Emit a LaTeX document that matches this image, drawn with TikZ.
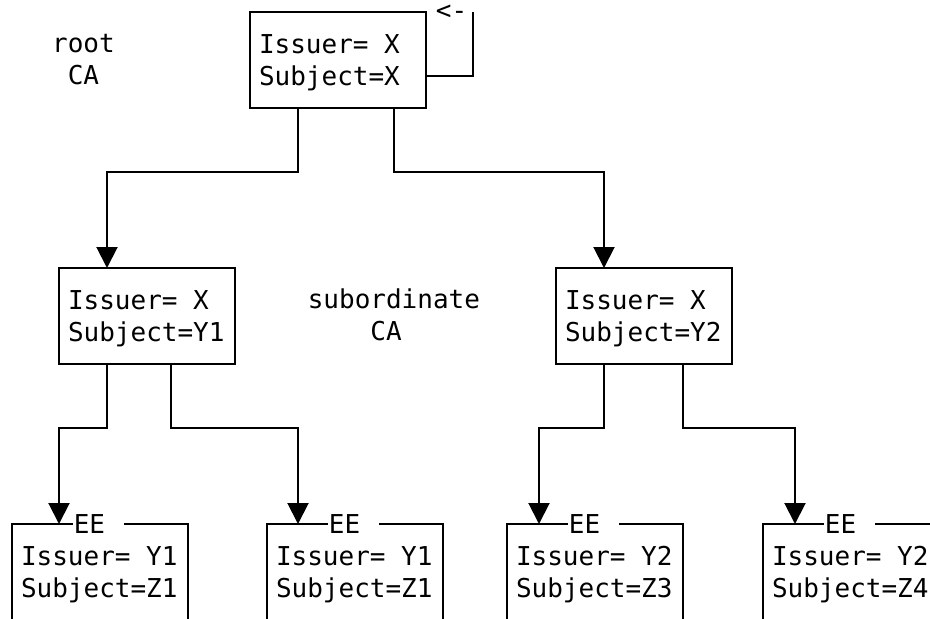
\documentclass[tikz,border=0pt]{standalone}
\usepackage{fontspec}
\setmonofont{DejaVu Sans Mono}
\usetikzlibrary{arrows.meta}
% one full monospace cell of blank
\newcommand{\cell}{\makebox[0.602em]{}}
% taller first line, so that the two lines sit a little lower in a box
\newcommand{\topstrut}{\rule{0pt}{25pt}}
\begin{document}
\begin{tikzpicture}[x=1pt,y=-1pt,
  every node/.style={font=\ttfamily\fontsize{26}{32}\selectfont},
  cert/.style={draw, line width=2pt, outer sep=0pt, anchor=north west,
    minimum width=176pt, minimum height=96pt, text width=158pt,
    inner xsep=9pt, inner ysep=0pt, align=left},
  wire/.style={line width=2pt},
  feed/.style={wire, -{Triangle[width=21pt,length=21pt]}},
  tag/.style={fill=white, inner xsep=1pt, inner ysep=3pt, anchor=center},
  caption/.style={anchor=west, inner sep=0pt, align=left}
]
\useasboundingbox (0,0) rectangle (930,619);
\fill[white] (0,0) rectangle (930,619);
\clip (0,0) rectangle (930,619);

% certificates
\node[cert] (root) at (250,12)  {\topstrut Issuer=\cell X\\Subject=X};
\node[cert] (sub1) at (59,268)  {\topstrut Issuer=\cell X\\Subject=Y1};
\node[cert] (sub2) at (556,268) {\topstrut Issuer=\cell X\\Subject=Y2};
\node[cert] (ee1)  at (12,524)  {\topstrut Issuer=\cell Y1\\Subject=Z1};
\node[cert] (ee2)  at (267,524) {\topstrut Issuer=\cell Y1\\Subject=Z1};
\node[cert] (ee3)  at (507,524) {\topstrut Issuer=\cell Y2\\Subject=Z3};
\node[cert] (ee4)  at (763,524) {\topstrut Issuer=\cell Y2\\Subject=Z4};

% end-entity tags on the top edges
\node[tag] (tag1) at ([xshift=-1.5pt]ee1.north) {EE\makebox[18pt]{}};
\node[tag] (tag2) at ([xshift=-1.5pt]ee2.north) {EE\makebox[18pt]{}};
\node[tag] (tag3) at ([xshift=-1.5pt]ee3.north) {EE\makebox[18pt]{}};
\node[tag] (tag4) at ([xshift=-1.5pt]ee4.north) {EE\makebox[18pt]{}};

% self-signed loop
\draw[wire] ([yshift=-16pt]root.east) -- ++(47,0) -- ++(0,-64) coordinate (loopend);
\node (back) at (451.5,12) {<-};

% issuing links
\draw[feed] ([xshift=48pt]root.south west)  -- ++(0,64) -| ([xshift=48pt]sub1.north west);
\draw[feed] ([xshift=144pt]root.south west) -- ++(0,64) -| ([xshift=48pt]sub2.north west);
\draw[feed] ([xshift=48pt]sub1.south west)  -- ++(0,64) -| ([xshift=47pt]ee1.north west);
\draw[feed] ([xshift=112pt]sub1.south west) -- ++(0,64) -| ([xshift=31pt]ee2.north west);
\draw[feed] ([xshift=48pt]sub2.south west)  -- ++(0,64) -| ([xshift=32pt]ee3.north west);
\draw[feed] ([xshift=127pt]sub2.south west) -- ++(0,64) -| ([xshift=32pt]ee4.north west);

% captions
\node[caption] (rootcap) at (51.9,60)  {root\\\phantom{r}CA};
\node[caption] (subcap)  at (307.6,315) {subordinate\\\phantom{subo}CA};
\end{tikzpicture}
\end{document}
